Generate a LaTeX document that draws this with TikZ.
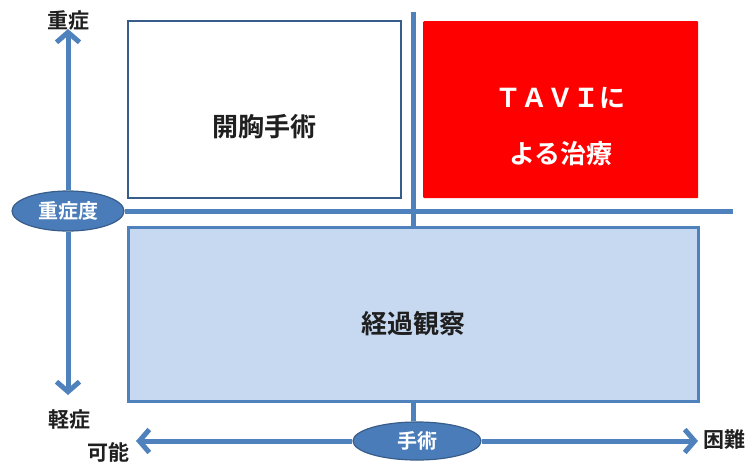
\documentclass[tikz,border=0pt]{standalone}
\usepackage{fontspec}
\setmainfont{Noto Sans CJK JP}[BoldFont={Noto Sans CJK JP Bold}]
\usetikzlibrary{arrows.meta,shapes.geometric}
\definecolor{axblue}{HTML}{4F81BD}
\definecolor{axdark}{HTML}{385D8A}
\definecolor{ovalfill}{HTML}{4A7CB9}
\definecolor{lightbox}{HTML}{C6D9F1}
\definecolor{tavired}{HTML}{FF0000}
\tikzset{
  axisline/.style={draw=axblue, line width=5pt},
  axisarrow/.style={axisline, -{Straight Barb[length=10pt,width=23pt]}},
  ovalnode/.style={ellipse, draw=axdark, line width=1.2pt, fill=ovalfill, text=white, inner sep=0pt, font=\bfseries\fontsize{20}{22}\selectfont},
  labeltext/.style={text=black!88, font=\bfseries\fontsize{21}{24}\selectfont, inner sep=0pt},
  boxtext/.style={font=\bfseries\fontsize{26}{56}\selectfont, align=center}
}
\begin{document}
\begin{tikzpicture}[x=1pt,y=-1pt]
\useasboundingbox (0,0) rectangle (746,463);
% boxes
\node[draw=axdark, line width=1.5pt, fill=white, minimum width=273pt, minimum height=177pt, anchor=north west, boxtext, text=black!88, text height=58pt, text depth=3pt] (open) at (127,20) {開胸手術};
\node[fill=tavired, minimum width=275pt, minimum height=177pt, anchor=north west, boxtext, text=white, rounded corners=1pt] (tavi) at (423,21) {\rule{0pt}{54pt}ＴＡＶＩに\\よる治療};
\node[draw=axblue, line width=2.5pt, fill=lightbox, minimum width=570pt, minimum height=174pt, anchor=north west, boxtext, text=black!88, text height=41pt, text depth=3pt] (obs) at (127,226) {経過観察};
% ovals
\node[ovalnode, minimum width=112pt, minimum height=40pt] (sev) at (68,211) {重症度};
\node[ovalnode, minimum width=128pt, minimum height=38pt] (surg) at (417,441) {手術};
% axis labels
\node[labeltext] (lsev) at (68,21) {重症};
\node[labeltext] (lmild) at (69,420) {軽症};
\node[labeltext] (lposs) at (108,452) {可能};
\node[labeltext, anchor=west] (ldiff) at (703,440) {困難};
% free ends
\coordinate (toptip) at (68,29);
\coordinate (bottip) at (68,395);
\coordinate (lefttip) at (136,441);
\coordinate (righttip) at (698,441);
\coordinate (hend) at (733,211);
\coordinate (vtop) at (413,12);
% connectors
\draw[axisarrow] (sev.north) -- (toptip);
\draw[axisarrow] (sev.south) -- (bottip);
\draw[axisarrow] (surg.west) -- (lefttip);
\draw[axisarrow] (surg.east) -- (righttip);
\draw[axisline] (sev.east) -- (hend);
\draw[axisline] (vtop) -- (vtop |- obs.north);
\draw[axisline] (vtop |- obs.south) -- (vtop |- surg.north);
\end{tikzpicture}
\end{document}
